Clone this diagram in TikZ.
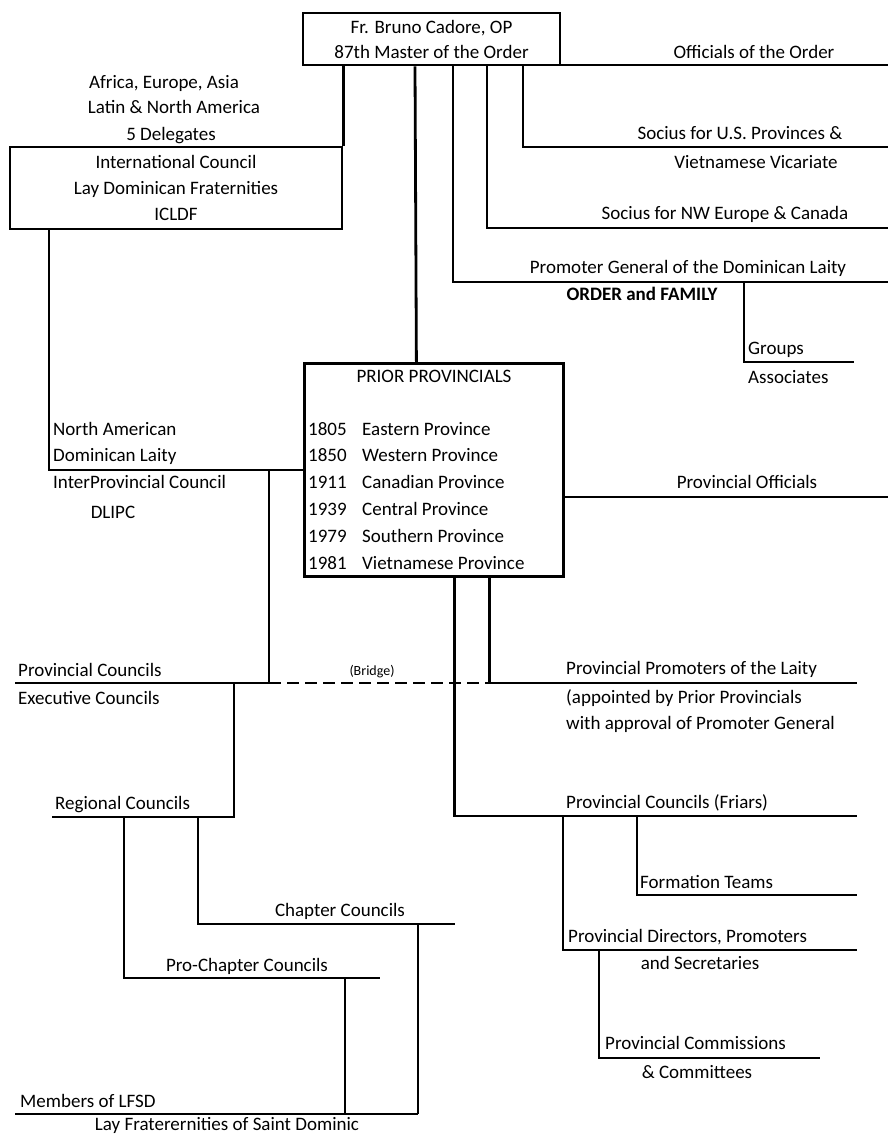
\documentclass[tikz,border=0pt]{standalone}
\usepackage{fontspec}
\setmainfont{Carlito}
\usetikzlibrary{positioning}

\tikzset{
  link/.style={line width=2.8pt},
  bridge/.style={line width=2.8pt, dash pattern=on 12pt off 6pt},
  box/.style={draw, line width=2.8pt, inner sep=0pt, align=center},
  lbl/.style={inner sep=0pt, font=\fontsize{19}{26}\selectfont},
}

\begin{document}
\begin{tikzpicture}[x=1pt,y=-1pt]
\useasboundingbox (0,0) rectangle (888,1135);
\node[box, lbl, minimum width=257, minimum height=52, font=\fontsize{19}{25}\selectfont] (master) at (431.5,39) {Fr. Bruno Cadore, OP\\87th Master of the Order};
\node[box, lbl, minimum width=332, minimum height=82] (icldf) at (176,188) {International Council\\Lay Dominican Fraternities\\ICLDF};
\node[lbl, anchor=base] (africa) at (164,88) {Africa, Europe, Asia};
\node[lbl, anchor=base] (latin) at (174,113) {Latin \& North America};
\node[lbl, anchor=base] (deleg) at (171,140) {5 Delegates};
\node[box, minimum width=259, minimum height=213, anchor=north west] (prior) at (303,362) {};
\node[lbl, anchor=base] (priortitle) at (434,382) {PRIOR PROVINCIALS};
\foreach \yr/\prov [count=\i] in {1805/Eastern,1850/Western,1911/Canadian,1939/Central,1979/Southern,1981/Vietnamese}{
  \node[lbl, anchor=base west] (yr\i) at (308,{435+26.8*(\i-1)}) {\yr};
  \node[lbl, anchor=base west] (prov\i) at (362,{435+26.8*(\i-1)}) {\prov\ Province};
}

\coordinate (offi) at (888,65);
\coordinate (sus) at (888,147);
\coordinate (nwe) at (888,228);
\coordinate (pg) at (888,282);
\coordinate (fam) at (744,282);
\coordinate (grp) at (854,362);
\coordinate (po) at (888,497);
\coordinate (brL) at (269,683);
\coordinate (brR) at (488,683);
\coordinate (pcL) at (15,683);
\coordinate (pp) at (857,683);
\coordinate (pf) at (857,816);
\coordinate (ftTop) at (637,816);
\coordinate (ft) at (857,895);
\coordinate (dirTop) at (563,816);
\coordinate (dir) at (857,950);
\coordinate (comTop) at (599,950);
\coordinate (com) at (820,1058);
\coordinate (exec) at (234,683);
\coordinate (reg) at (52,817);
\coordinate (chapTop) at (198,817);
\coordinate (chap) at (455,924);
\coordinate (proTop) at (124,817);
\coordinate (pro) at (380,978);
\coordinate (memL) at (15,1114);
\coordinate (memR) at (418,1114);
\coordinate (memM) at (345,1114);

\draw[link] (master.south east |- offi) -- (offi);
\draw[link] ([xshift=91.5]master.south) |- (sus);
\draw[link] ([xshift=55.5]master.south) |- (nwe);
\draw[link] ([xshift=21.5]master.south) |- (pg);
\draw[link] (fam) |- (grp);
\draw[link] (icldf.north east) -- (icldf.north east |- master.south);
\draw[link] ([xshift=-16.5]master.south) -- ([xshift=-17.5]prior.north);
\draw[link] ([xshift=-127]icldf.south) |- (prior.west);
\draw[link] (prior.east |- po) -- (po);
\draw[link] (brL |- prior.west) -- (brL);
\draw[link] (pcL) -- (brL);
\draw[bridge] (brL) -- (brR);
\draw[link] ([xshift=55.5]prior.south) |- (pp);
\draw[link] ([xshift=20.5]prior.south) |- (pf);
\draw[link] (ftTop) |- (ft);
\draw[link] (dirTop) |- (dir);
\draw[link] (comTop) |- (com);
\draw[link] (exec) |- (reg);
\draw[link] (chapTop) |- (chap);
\draw[link] (proTop) |- (pro);
\draw[link] (memL) -- (memR);
\draw[link] (memR) -- (memR |- chap);
\draw[link] (memM) -- (memM |- pro);

\node[lbl, anchor=base] (offlbl) at (754,58) {Officials of the Order};
\node[lbl, anchor=base] (suslbl) at (740,139) {Socius for U.S. Provinces \&};
\node[lbl, anchor=base] (viclbl) at (756,168) {Vietnamese Vicariate};
\node[lbl, anchor=base] (nwelbl) at (725,219) {Socius for NW Europe \& Canada};
\node[lbl, anchor=base] (pglbl) at (688,273) {Promoter General of the Dominican Laity};
\node[lbl, anchor=base, font=\fontsize{19}{26}\selectfont\bfseries] (famlbl) at (642,300) {ORDER and FAMILY};
\node[lbl, anchor=base west] (grplbl) at (748,354) {Groups};
\node[lbl, anchor=base west] (asslbl) at (748,383) {Associates};
\node[lbl, anchor=base west] (nalbl) at (53,435) {North American};
\node[lbl, anchor=base west] (dllbl) at (53,461) {Dominican Laity};
\node[lbl, anchor=base west] (iplbl) at (53,488) {InterProvincial Council};
\node[lbl, anchor=base] (dlipc) at (113,518) {DLIPC};
\node[lbl, anchor=base] (polbl) at (747,488) {Provincial Officials};
\node[lbl, anchor=base west] (pclbl) at (18,676) {Provincial Councils};
\node[lbl, anchor=base west] (exlbl) at (18,704) {Executive Councils};
\node[lbl, anchor=base, font=\fontsize{14}{18}\selectfont] (brlbl) at (372,675) {(Bridge)};
\node[lbl, anchor=base west] (pplbl) at (566,674) {Provincial Promoters of the Laity};
\node[lbl, anchor=base west] (aplbl) at (566,703) {(appointed by Prior Provincials};
\node[lbl, anchor=base west] (walbl) at (566,729) {with approval of Promoter General};
\node[lbl, anchor=base west] (reglbl) at (55,809) {Regional Councils};
\node[lbl, anchor=base west] (pflbl) at (566,808) {Provincial Councils (Friars)};
\node[lbl, anchor=base west] (ftlbl) at (640,888) {Formation Teams};
\node[lbl, anchor=base] (chaplbl) at (340,916) {Chapter Councils};
\node[lbl, anchor=base west] (dirlbl) at (568,942) {Provincial Directors, Promoters};
\node[lbl, anchor=base] (seclbl) at (700,969) {and Secretaries};
\node[lbl, anchor=base] (prolbl) at (247,971) {Pro-Chapter Councils};
\node[lbl, anchor=base west] (comlbl) at (605,1049) {Provincial Commissions};
\node[lbl, anchor=base] (cttlbl) at (697,1078) {\& Committees};
\node[lbl, anchor=base west] (memlbl) at (20,1107) {Members of LFSD};
\node[lbl, anchor=base] (laylbl) at (227,1130) {Lay Fraterernities of Saint Dominic};
\end{tikzpicture}
\end{document}
